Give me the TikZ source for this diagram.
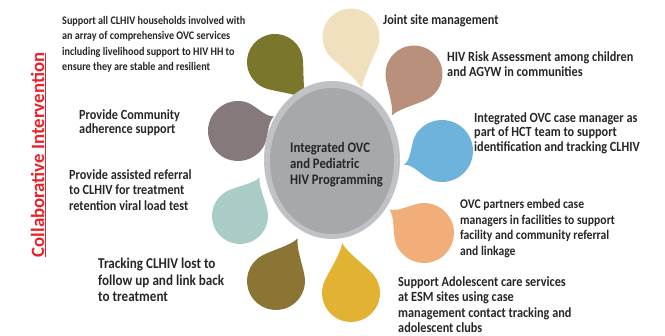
\documentclass[tikz,border=0pt]{standalone}
\usepackage{fontspec}
\setmainfont{Carlito}[FakeStretch=0.875]
\newfontfamily\titlefont{Carlito}
\usetikzlibrary{positioning}

\definecolor{olive}{RGB}{122,118,44}
\definecolor{cream}{RGB}{240,224,190}
\definecolor{rosebrown}{RGB}{184,144,124}
\definecolor{skyblue}{RGB}{109,179,220}
\definecolor{peach}{RGB}{242,174,120}
\definecolor{mustard}{RGB}{226,178,50}
\definecolor{khaki}{RGB}{138,117,53}
\definecolor{seafoam}{RGB}{169,204,198}
\definecolor{mauve}{RGB}{134,121,124}
\definecolor{hubgrey}{RGB}{166,168,171}
\definecolor{ringgrey}{RGB}{192,194,197}
\definecolor{txt}{RGB}{38,38,38}
\definecolor{titlered}{RGB}{230,34,42}

% colour, centre, angle of the tip, radius, tip length
\newcommand{\drop}[5]{%
  \fill[#1,shift={#2},rotate=#3,x=#4pt,y=#4pt]
    (#5,0) .. controls ({#5-0.3},0.08) and (0.86,0.62) .. (55:1)
    arc[start angle=55,end angle=305,radius=1]
    .. controls (0.86,-0.62) and ({#5-0.3},-0.08) .. cycle;}

\begin{document}
\begin{tikzpicture}[x=1pt,y=-1pt]
  \useasboundingbox (0,0) rectangle (665,336);

  \drop{olive}{(275,62)}{-50}{28}{1.75}
  \drop{cream}{(351,37)}{-78}{28.5}{1.85}
  \drop{rosebrown}{(414,74)}{-118}{28.5}{1.65}
  \drop{skyblue}{(442,151)}{-160}{31}{1.3}
  \drop{peach}{(424,233)}{146}{30}{1.4}
  \drop{mustard}{(351,293)}{100}{29}{1.75}
  \drop{khaki}{(276,281)}{63}{29}{1.65}
  \drop{seafoam}{(240,216)}{63}{28}{1.55}
  \drop{mauve}{(238,131)}{22}{30}{1.3}

  \fill[ringgrey] (332,160) ellipse[x radius=68,y radius=79];
  \fill[hubgrey] (332,161) ellipse[x radius=62,y radius=73];

  \begin{scope}[every node/.style={anchor=north west,align=left,inner sep=0pt,text=txt,
      font=\bfseries\fontsize{14}{15.5}\selectfont}]
    \node (hub) [font=\bfseries\fontsize{14.5}{16}\selectfont] at (290,142)
      {Integrated OVC\\and Pediatric\\HIV Programming};
    \node (support) [font=\bfseries\fontsize{11.6}{15.5}\selectfont] at (62,16)
      {Support all CLHIV households involved with\\an array of comprehensive OVC services\\including livelihood support to HIV HH to\\ensure they are stable and resilient};
    \node (adhere) [font=\bfseries\fontsize{14}{14.5}\selectfont] at (79,109)
      {Provide Community\\adherence support};
    \node (referral) at (69,169)
      {Provide assisted referral\\to CLHIV for treatment\\retention viral load test};
    \node (tracking) [font=\bfseries\fontsize{15}{16.5}\selectfont] at (98,258)
      {Tracking CLHIV lost to\\follow up and link back\\to treatment};
    \node (joint) at (383,14) {Joint site management};
    \node (risk) [font=\bfseries\fontsize{14}{15}\selectfont] at (447,51)
      {HIV Risk Assessment among children\\and AGYW in communities};
    \node (caseman) [font=\bfseries\fontsize{14}{14.5}\selectfont] at (474,112)
      {Integrated OVC case manager as\\part of HCT team to support\\identification and tracking CLHIV};
    \node (embed) [font=\bfseries\fontsize{13.3}{15.5}\selectfont] at (460,199)
      {OVC partners embed case\\managers in facilities to support\\facility and community referral\\and linkage};
    \node (adol) at (398,276)
      {Support Adolescent care services\\at ESM sites using case\\management contact tracking and\\adolescent clubs};
  \end{scope}

  \node (title) [rotate=90,inner sep=0pt,text=titlered,
    font=\titlefont\bfseries\fontsize{18.8}{20}\selectfont] at (38.5,155)
    {\underline{Collaborative Intervention}};
\end{tikzpicture}
\end{document}
